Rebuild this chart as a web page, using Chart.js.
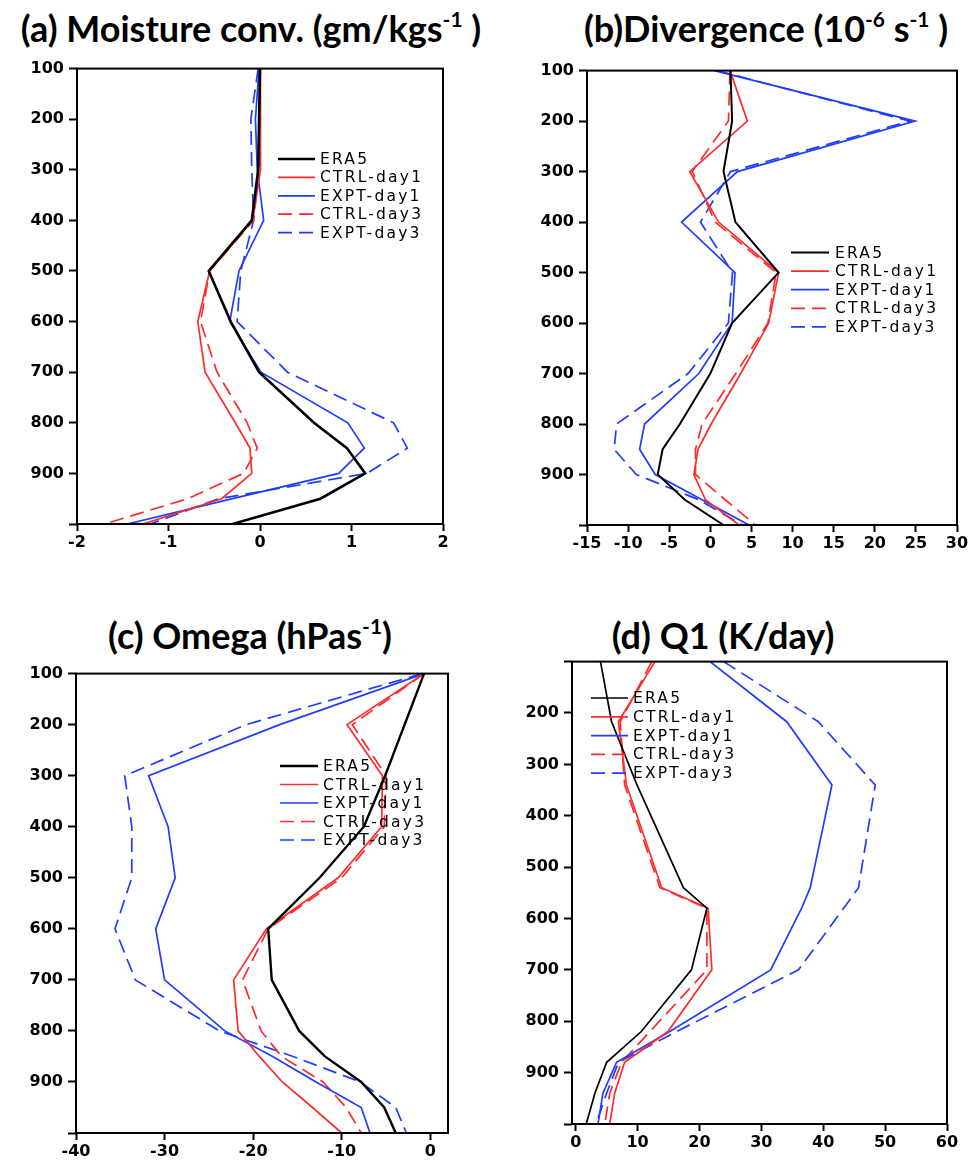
<!DOCTYPE html>
<html><head><meta charset="utf-8">
<script src="https://cdn.jsdelivr.net/npm/chart.js@4.4.0/dist/chart.umd.min.js"></script>
<style>
html,body{margin:0;padding:0;background:#fff;overflow:hidden;width:972px;height:1161px;position:relative;}
canvas{position:absolute;}
.title{position:absolute;font-family:Lato,'Open Sans',sans-serif;font-weight:bold;color:#000;white-space:nowrap;text-align:center;line-height:1;}
.title sup{font-size:0.58em;vertical-align:0.7em;line-height:0;}
</style></head><body>
<div class="title" style="left:0;top:10px;width:502px;font-size:36px;">(a) Moisture conv. (gm/kgs<sup>-1</sup> )</div>
<div class="title" style="left:560px;top:10px;width:412px;font-size:36px;">(b)Divergence (10<sup>-6</sup> s<sup>-1</sup> )</div>
<div class="title" style="left:0;top:617px;width:500px;font-size:36px;">(c) Omega (hPas<sup>-1</sup>)</div>
<div class="title" style="left:520px;top:617px;width:406px;font-size:36px;">(d) Q1 (K/day)</div>
<canvas id="ca"></canvas><canvas id="cb"></canvas><canvas id="cc"></canvas><canvas id="cd"></canvas>
<script>
// ---------- DATA ----------
const seriesNames = ['ERA5', 'CTRL-day1', 'EXPT-day1', 'CTRL-day3', 'EXPT-day3'];
const yTicks = [100, 200, 300, 400, 500, 600, 700, 800, 900, 1000];
const yLabelsABC = ['100', '200', '300', '400', '500', '600', '700', '800', '900', ''];
const yLabelsD = ['', '200', '300', '400', '500', '600', '700', '800', '900', ''];

// (a) Moisture convergence
const levelsA = [100, 200, 300, 400, 500, 600, 700, 800, 850, 900, 950, 1000];
const era5A  = [0.0, -0.01, -0.02, -0.09, -0.56, -0.32, -0.01, 0.59, 0.95, 1.15, 0.66, -0.30];
const ctrl1A = [0.0, 0.01, 0.0, -0.08, -0.55, -0.68, -0.60, -0.27, -0.11, -0.09, -0.42, -1.28];
const expt1A = [-0.01, -0.05, -0.03, 0.04, -0.23, -0.33, 0.01, 0.96, 1.14, 0.86, -0.30, -1.45];
const ctrl3A = [0.0, 0.0, -0.01, -0.07, -0.55, -0.65, -0.47, -0.14, -0.03, -0.18, -0.79, -1.70];
const expt3A = [-0.02, -0.10, -0.09, -0.07, -0.21, -0.25, 0.30, 1.46, 1.61, 1.17, -0.45, -1.20];
const xTicksA = [-2, -1, 0, 1, 2];

// (b) Divergence
const levelsB = [100, 200, 300, 400, 500, 600, 700, 800, 850, 900, 950, 1000];
const era5B  = [2.45, 2.65, 1.6, 3.05, 8.3, 2.65, 0.0, -3.7, -5.8, -6.4, -3.1, 1.6];
const ctrl1B = [2.4, 4.5, -2.5, 1.0, 8.3, 7.1, 3.7, 0.1, -1.5, -2.0, -0.6, 3.5];
const expt1B = [0.5, 24.9, 3.3, -3.5, 3.0, 2.65, -1.4, -8.0, -8.6, -6.7, -1.0, 4.7];
const ctrl3B = [2.4, 2.2, -2.2, 0.6, 8.0, 7.0, 3.1, -1.0, -1.8, -1.8, 1.8, 5.5];
const expt3B = [0.8, 24.3, 2.45, -1.2, 2.7, 2.2, -2.7, -11.4, -11.7, -9.0, -1.4, 3.9];
const xTicksB = [-15, -10, -5, 0, 5, 10, 15, 20, 25, 30];

// (c) Omega
const levelsC = [100, 200, 300, 400, 500, 600, 700, 800, 850, 900, 950, 1000];
const era5C  = [-0.7, -2.9, -5.1, -7.5, -12.5, -18.3, -17.9, -14.8, -11.9, -7.8, -5.2, -3.9];
const ctrl1C = [-0.7, -9.4, -5.4, -5.5, -10.4, -18.5, -22.2, -21.7, -19.3, -16.7, -13.3, -10.0];
const expt1C = [-0.7, -17.0, -31.8, -29.6, -28.8, -31.0, -30.0, -23.2, -17.8, -12.9, -7.8, -6.8];
const ctrl3C = [-0.7, -8.8, -5.0, -5.2, -10.0, -18.3, -21.2, -19.1, -16.8, -12.1, -9.5, -7.8];
const expt3C = [-0.9, -20.8, -34.5, -33.7, -33.7, -35.6, -33.3, -23.8, -15.5, -7.9, -3.9, -2.7];
const xTicksC = [-40, -30, -20, -10, 0];

// (d) Q1
const levelsD = [100, 217, 340, 540, 580, 700, 820, 880, 940, 1000];
const era5D  = [4.0, 5.8, 9.9, 17.4, 21.2, 18.7, 10.6, 5.0, 3.1, 1.7];
const ctrl1D = [12.8, 6.9, 8.2, 13.9, 21.4, 22.0, 14.9, 7.9, 6.3, 5.5];
const expt1D = [21.7, 34.1, 41.4, 37.9, 36.5, 31.5, 15.2, 6.6, 4.4, 3.6];
const ctrl3D = [12.3, 7.2, 7.9, 13.6, 21.2, 21.2, 12.0, 7.4, 5.5, 4.7];
const expt3D = [23.9, 39.2, 48.4, 45.7, 43.3, 36.0, 16.3, 6.9, 5.0, 3.3];
const xTicksD = [0, 10, 20, 30, 40, 50, 60];

// ---------- STYLE ----------
const colors = ['#000000', '#ff2a2a', '#1f3dff', '#ff2a2a', '#1f3dff'];
const widths = [2.6, 1.7, 1.7, 1.7, 1.7];
const dashes = [[], [], [], [14, 7], [14, 7]];
const PADL = 70, PADT = 14, PADR = 26, PADB = 38;

const framePlugin = {
  id: 'frame',
  afterDraw(chart) {
    const a = chart.chartArea, ctx = chart.ctx;
    ctx.save();
    ctx.strokeStyle = '#000'; ctx.lineWidth = 2;
    ctx.strokeRect(a.left, a.top, a.right - a.left, a.bottom - a.top);
    ctx.restore();
  }
};
const legendPlugin = {
  id: 'profileLegend',
  afterDatasetsDraw(chart, args, o) {
    const ctx = chart.ctx;
    ctx.save();
    chart.data.datasets.forEach((ds, i) => {
      const y = o.y + i * o.dy;
      ctx.beginPath();
      ctx.strokeStyle = ds.borderColor; ctx.lineWidth = ds.borderWidth;
      ctx.setLineDash(ds.borderDash || []);
      ctx.moveTo(o.x1, y); ctx.lineTo(o.x2, y); ctx.stroke();
      ctx.setLineDash([]);
      ctx.fillStyle = '#000';
      ctx.font = '15.5px "DejaVu Sans"';
      try { ctx.letterSpacing = '2.2px'; } catch (e) {}
      ctx.textBaseline = 'middle';
      ctx.fillText(ds.label, o.tx, y + 1);
    });
    ctx.restore();
  }
};

function makePanel(id, area, levels, series, xMin, xMax, xTicks, yLabels, legend, blackWidth) {
  const cv = document.getElementById(id);
  const left = area.l - PADL, top = area.t - PADT;
  const w = (area.r - area.l) + PADL + PADR, h = (area.b - area.t) + PADT + PADB;
  cv.width = w; cv.height = h;
  cv.style.left = left + 'px'; cv.style.top = top + 'px';
  cv.style.width = w + 'px'; cv.style.height = h + 'px';
  const datasets = series.map((vals, i) => ({
    label: seriesNames[i],
    data: vals.map((v, k) => ({ x: v, y: levels[k] })),
    showLine: true, fill: false, pointRadius: 0, tension: 0,
    borderColor: colors[i], borderWidth: i === 0 ? blackWidth : widths[i], borderDash: dashes[i]
  }));
  const tickFont = { family: '"DejaVu Sans"', weight: 'bold', size: 16 };
  new Chart(cv, {
    type: 'scatter',
    data: { datasets },
    plugins: [framePlugin, legendPlugin],
    options: {
      responsive: false, animation: false, events: [], devicePixelRatio: 1,
      layout: { padding: { left: 0, top: PADT, right: PADR, bottom: 0 } },
      plugins: {
        legend: { display: false }, tooltip: { enabled: false },
        profileLegend: { x1: legend.x1 - left, x2: legend.x2 - left, tx: legend.tx - left, y: legend.y - top, dy: legend.dy }
      },
      scales: {
        x: {
          type: 'linear', min: xMin, max: xMax,
          afterBuildTicks: s => { s.ticks = xTicks.map(v => ({ value: v })); },
          afterFit: s => { s.height = PADB; },
          ticks: { autoSkip: false, maxRotation: 0, minRotation: 0, color: '#000', font: tickFont, padding: 2,
                   callback: v => String(v) },
          grid: { drawOnChartArea: false, drawTicks: true, tickLength: 7, tickWidth: 2, tickColor: '#000' },
          border: { display: false }
        },
        y: {
          type: 'linear', reverse: true, min: 100, max: 1000,
          afterBuildTicks: s => { s.ticks = yTicks.map(v => ({ value: v })); },
          afterFit: s => { s.width = PADL; },
          ticks: { autoSkip: false, color: '#000', font: tickFont, padding: 5,
                   callback: (v, i) => yLabels[i] },
          grid: { drawOnChartArea: false, drawTicks: true, tickLength: 8, tickWidth: 2, tickColor: '#000' },
          border: { display: false }
        }
      }
    }
  });
}

makePanel('ca', { l: 77, t: 68, r: 443, b: 524 }, levelsA, [era5A, ctrl1A, expt1A, ctrl3A, expt3A],
  -2, 2, xTicksA, yLabelsABC, { x1: 278, x2: 315, tx: 320, y: 159, dy: 18.4 }, 2.6);
makePanel('cb', { l: 587, t: 70, r: 957, b: 525 }, levelsB, [era5B, ctrl1B, expt1B, ctrl3B, expt3B],
  -15, 30, xTicksB, yLabelsABC, { x1: 791, x2: 829, tx: 835, y: 252.5, dy: 18.6 }, 2.0);
makePanel('cc', { l: 76, t: 673, r: 448, b: 1133 }, levelsC, [era5C, ctrl1C, expt1C, ctrl3C, expt3C],
  -40, 2, xTicksC, yLabelsABC, { x1: 280, x2: 318, tx: 323, y: 766, dy: 18.5 }, 2.4);
makePanel('cd', { l: 572, t: 661, r: 947, b: 1124 }, levelsD, [era5D, ctrl1D, expt1D, ctrl3D, expt3D],
  -0.6, 60, xTicksD, yLabelsD, { x1: 591, x2: 628, tx: 633, y: 698, dy: 18.8 }, 1.7);
</script>
</body></html>
